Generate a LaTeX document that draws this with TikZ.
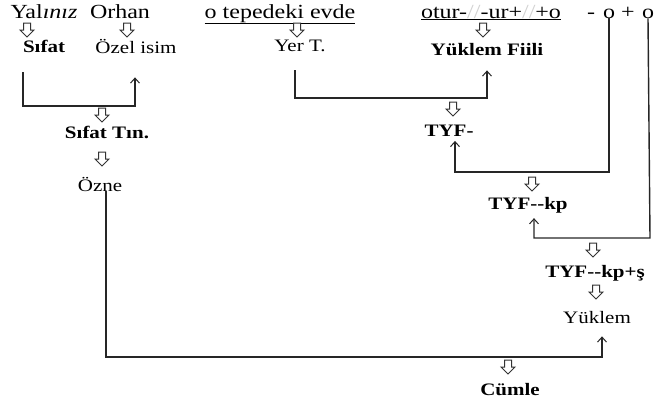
\documentclass[tikz,border=0pt]{standalone}
\usepackage{fontspec}
\setmainfont{Liberation Serif}[FakeStretch=1.2]
\usetikzlibrary{arrows.meta}
\begin{document}
\begin{tikzpicture}[x=1pt,y=-1pt,
 lbl/.style={inner sep=0pt, font=\fontsize{17.5}{17.5}\selectfont, text=black},
 bl/.style={inner sep=0pt, font=\fontsize{17.5}{17.5}\selectfont\bfseries, text=black},
 toptxt/.style={inner sep=0pt, anchor=base, font=\fontsize{20}{20}\selectfont, text=black},
 conn/.style={draw=black!85, line width=1.4pt},
 tip/.style={-{Straight Barb[length=5pt,width=9pt,line width=1pt]}},
 pics/hol/.style={code={\draw[black!80, line width=1pt, fill=white]
   (-3.5,-7) -- (3.5,-7) -- (3.5,0) -- (7,0) -- (0,7) -- (-7,0) -- (-3.5,0) -- cycle;}}
]
\useasboundingbox (0,0) rectangle (655,405);

% top row
\node[toptxt] (yal) at (44,18) {Yal\textit{ınız}};
\node[toptxt] (orhan) at (120,18) {Orhan};
\node[toptxt] (evde) at (280,18) {\underline{o tepedeki evde}};
\node[toptxt] (otur) at (491,18) {\underline{otur-\textcolor{gray!35}{//}-ur+\textcolor{gray!35}{//}+o}};
\node[toptxt] (m1) at (591,18) {-};
\node[toptxt] (o1) at (609,18) {o};
\node[toptxt] (p1) at (628,18) {+};
\node[toptxt] (o2) at (648,18) {o};

% labels
\node[bl] (sifat) at (44,46) {Sıfat};
\node[lbl] (ozel) at (136,46) {Özel isim};
\node[lbl] (yer) at (300,46) {Yer T.};
\node[bl] (yfiil) at (487,50) {Yüklem Fiili};
\node[bl] (sifattin) at (107,132) {Sıfat Tın.};
\node[lbl] (ozne) at (100,184) {Özne};
\node[bl] (tyf1) at (449,131) {TYF-};
\node[bl] (tyf2) at (528,205) {TYF-{}-kp};
\node[bl] (tyf3) at (595,273) {TYF-{}-kp+ş};
\node[lbl] (yuklem) at (597,318) {Yüklem};
\node[bl] (cumle) at (510,390) {Cümle};

% hollow arrows
\pic at (27,30) {hol};
\pic at (127,30) {hol};
\pic at (297,30) {hol};
\pic at (483,30) {hol};
\pic at (102,115) {hol};
\pic at (102,159) {hol};
\pic at (453,109) {hol};
\pic at (532,184) {hol};
\pic at (593,250) {hol};
\pic at (596,292) {hol};
\pic at (508,367) {hol};

% connectors
\coordinate (c1) at (23,106);
\coordinate (c1t) at (23,72);
\draw[conn,tip] (c1t) -- (c1) -| ([xshift=-1pt,yshift=-24pt]ozel.south);

\coordinate (c2) at (295,98);
\coordinate (c2t) at (295,70);
\draw[conn,tip] (c2t) -- (c2) -| ([yshift=-14pt]yfiil.south);

\coordinate (c3) at (609,172);
\draw[conn,tip] (o1.south) -- (c3) -| ([xshift=6pt,yshift=-4pt]tyf1.south);

\coordinate (c4) at (650,238);
\draw[conn,tip] (o2.south) -- (c4) -| ([xshift=6pt,yshift=-5pt]tyf2.south);

\coordinate (c5) at (106,357);
\draw[conn,tip] (ozne.south -| c5) -- (c5) -| ([xshift=5pt,yshift=-12pt]yuklem.south);
\end{tikzpicture}
\end{document}
